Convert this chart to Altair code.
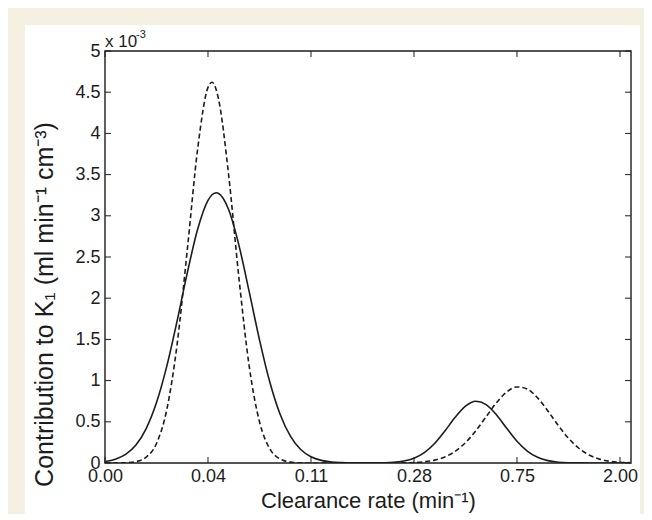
import altair as alt
import pandas as pd

# ---- data (values in units of 1e-3) ----
x_tick_pos = [0, 1, 2, 3, 4, 5]
x_tick_labels = ["0.00", "0.04", "0.11", "0.28", "0.75", "2.00"]
y_ticks = [0, 0.5, 1, 1.5, 2, 2.5, 3, 3.5, 4, 4.5, 5]

solid_x = [0.0, 0.1, 0.2, 0.3, 0.4, 0.5, 0.6, 0.7, 0.8, 0.9, 1.0, 1.08, 1.1, 1.2, 1.3, 1.4,
           1.5, 1.6, 1.7, 1.8, 1.9, 2.0, 2.1, 2.2, 2.3, 2.4, 2.5, 2.6, 2.7, 2.8, 2.9, 3.0,
           3.1, 3.2, 3.3, 3.4, 3.5, 3.6, 3.7, 3.8, 3.9, 4.0, 4.1, 4.2, 4.3, 4.4, 4.5, 4.6,
           4.7, 4.8, 4.9, 5.0, 5.1]
solid_y = [0.018, 0.046, 0.104, 0.218, 0.418, 0.733, 1.176, 1.724, 2.313, 2.839, 3.188, 3.28,
           3.274, 3.076, 2.644, 2.079, 1.495, 0.983, 0.592, 0.326, 0.164, 0.076, 0.032, 0.012,
           0.005, 0.002, 0.001, 0.001, 0.003, 0.008, 0.024, 0.058, 0.126, 0.237, 0.388, 0.554,
           0.690, 0.749, 0.709, 0.586, 0.421, 0.264, 0.145, 0.069, 0.029, 0.010, 0.003, 0.001,
           0.0, 0.0, 0.0, 0.0, 0.0]

dashed_x = [0.0, 0.1, 0.2, 0.3, 0.4, 0.5, 0.6, 0.7, 0.8, 0.9, 1.0, 1.04, 1.1, 1.2, 1.3, 1.4,
            1.5, 1.6, 1.7, 1.8, 1.9, 2.0, 2.1, 2.2, 2.3, 2.4, 2.5, 2.6, 2.7, 2.8, 2.9, 3.0,
            3.1, 3.2, 3.3, 3.4, 3.5, 3.6, 3.7, 3.8, 3.9, 4.0, 4.1, 4.2, 4.3, 4.4, 4.5, 4.6,
            4.7, 4.8, 4.9, 5.0, 5.1]
dashed_y = [0.0, 0.001, 0.003, 0.017, 0.071, 0.237, 0.648, 1.440, 2.599, 3.816, 4.558, 4.62,
            4.429, 3.499, 2.249, 1.175, 0.500, 0.173, 0.049, 0.011, 0.002, 0.0, 0.0, 0.0,
            0.0, 0.0, 0.0, 0.0, 0.0, 0.001, 0.002, 0.006, 0.015, 0.035, 0.074, 0.142,
            0.247, 0.391, 0.561, 0.730, 0.862, 0.923, 0.897, 0.790, 0.631, 0.457, 0.300, 0.179,
            0.097, 0.047, 0.021, 0.009, 0.003]

# ---- styling ----
W, H = 526, 412
SVG_W, SVG_H = 636, 506
PAD_L, PAD_T = 97, 43
BG = "#f4f0e2"
INK = "#1c1c1c"
FONT = "Liberation Sans"

solid_df = pd.DataFrame({"x": solid_x, "y": solid_y})
dashed_df = pd.DataFrame({"x": dashed_x, "y": dashed_y})
xt_df = pd.DataFrame({"x": x_tick_pos})
yt_df = pd.DataFrame({"y": y_ticks})
one = pd.DataFrame({"a": [0]})

xscale = alt.Scale(domain=[0, 5.107], nice=False, zero=False)
yscale = alt.Scale(domain=[0, 5], nice=False)

label_expr = "[" + ",".join("'" + s + "'" for s in x_tick_labels) + "][round(datum.value)]"

xaxis = alt.Axis(values=x_tick_pos, labelExpr=label_expr, title="Clearance rate (min⁻¹)",
                 grid=False, domain=False, ticks=False, tickSize=0, labelPadding=4,
                 labelFontSize=18, titleFontSize=22, titleY=44, titleBaseline="alphabetic",
                 zindex=1, labelFont=FONT, titleFont=FONT, titleFontWeight="normal",
                 labelColor=INK, titleColor=INK, labelFlush=False, labelOverlap=False)
yaxis = alt.Axis(values=y_ticks, format="~g", title="Contribution to K₁ (ml min⁻¹ cm⁻³)",
                 grid=False, domain=False, ticks=False, tickSize=0, labelPadding=5,
                 labelFontSize=18, titleFontSize=25, titleAngle=270, titleX=-61, titleY=253,
                 titleAlign="center", titleBaseline="middle",
                 zindex=1, labelFont=FONT, titleFont=FONT, titleFontWeight="normal",
                 labelColor=INK, titleColor=INK, labelFlush=False, labelOverlap=False)

X = alt.X("x:Q", scale=xscale, axis=xaxis)
Y = alt.Y("y:Q", scale=yscale, axis=yaxis)

white = alt.Chart(one).mark_rect(color="white").encode(
    x=alt.value(-80), x2=alt.value(535), y=alt.value(-26), y2=alt.value(470))

solid = alt.Chart(solid_df).mark_line(color=INK, strokeWidth=1.6, interpolate="monotone",
                                      clip=True).encode(x=X, y=Y)
dashed = alt.Chart(dashed_df).mark_line(color=INK, strokeWidth=1.6, strokeDash=[5, 3],
                                        interpolate="monotone", clip=True).encode(x=X, y=Y)

TL = 6
tick_bottom = alt.Chart(xt_df).mark_rule(color=INK, strokeWidth=1).encode(
    x=X, y=alt.value(H - TL), y2=alt.value(H))
tick_top = alt.Chart(xt_df).mark_rule(color=INK, strokeWidth=1).encode(
    x=X, y=alt.value(0), y2=alt.value(TL))
tick_left = alt.Chart(yt_df).mark_rule(color=INK, strokeWidth=1).encode(
    y=Y, x=alt.value(0), x2=alt.value(TL))
tick_right = alt.Chart(yt_df).mark_rule(color=INK, strokeWidth=1).encode(
    y=Y, x=alt.value(W - TL), x2=alt.value(W))

frame = alt.Chart(one).mark_rect(filled=False, stroke=INK, strokeWidth=1.4).encode(
    x=alt.value(0), x2=alt.value(W), y=alt.value(0), y2=alt.value(H))

mult = alt.Chart(one).mark_text(text="x 10", align="left", baseline="alphabetic",
                                fontSize=17, font=FONT, color=INK).encode(
    x=alt.value(0), y=alt.value(-4))
mult_exp = alt.Chart(one).mark_text(text="-3", align="left", baseline="alphabetic",
                                    fontSize=11, font=FONT, color=INK).encode(
    x=alt.value(31), y=alt.value(-13))

chart = alt.layer(white, solid, dashed, tick_bottom, tick_top, tick_left, tick_right,
                  frame, mult, mult_exp).properties(
    width=W, height=H,
    padding={"left": PAD_L, "top": PAD_T, "right": SVG_W - PAD_L - W,
             "bottom": SVG_H - PAD_T - H},
    autosize=alt.AutoSizeParams(type="none"),
    background=BG,
).configure_view(strokeWidth=0)

chart.save("out.html", embed_options={"renderer": "svg", "actions": False})
